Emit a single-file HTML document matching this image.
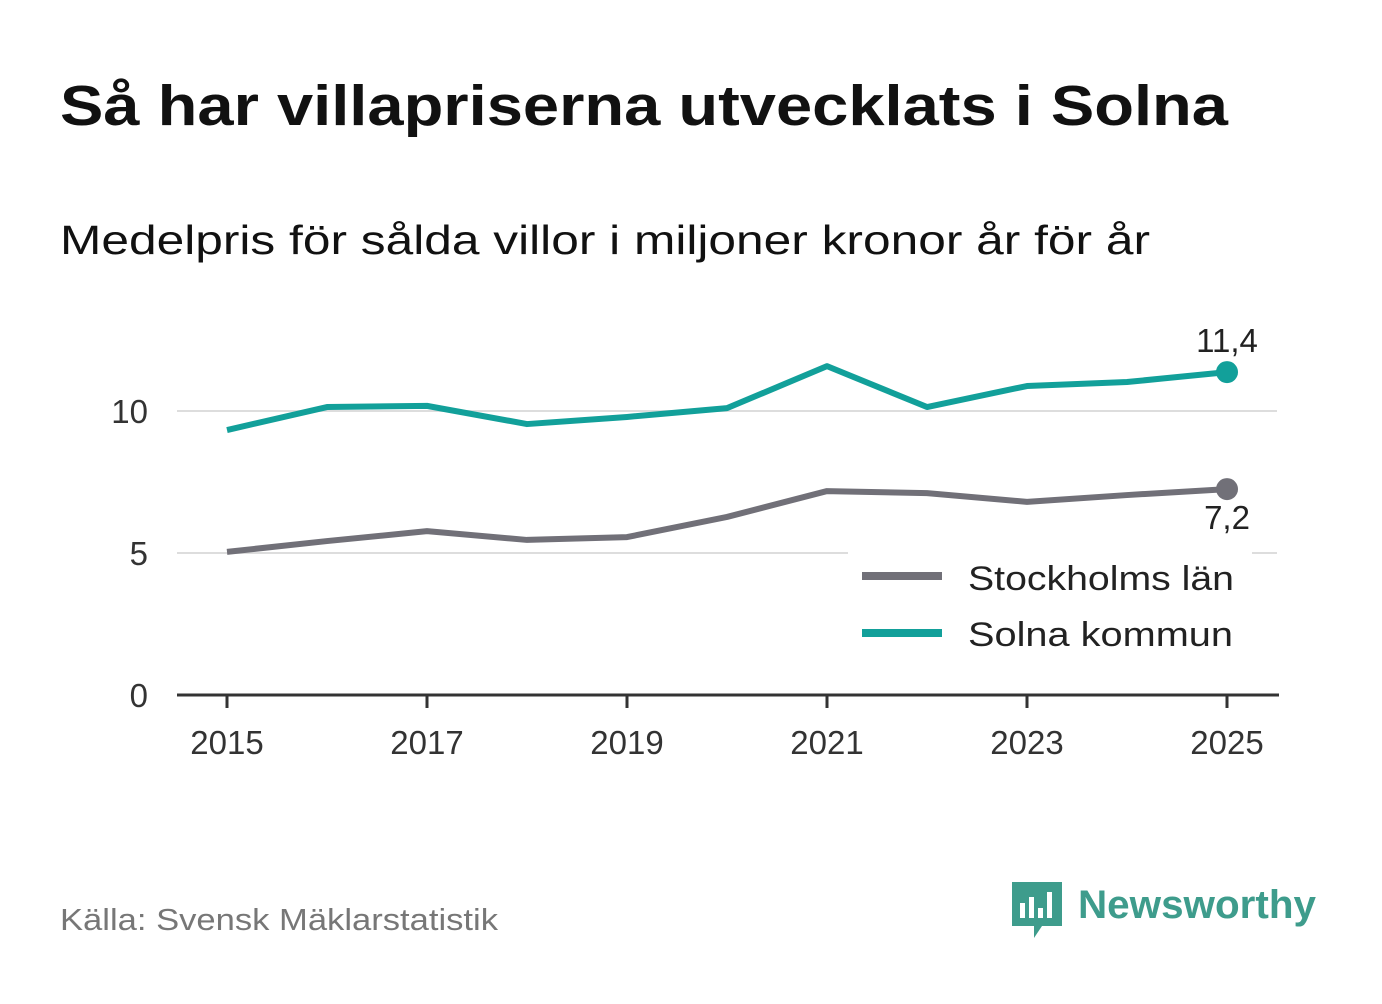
<!DOCTYPE html>
<html><head><meta charset="utf-8">
<style>
body{margin:0;background:#fff;width:1382px;height:999px;overflow:hidden;font-family:"Liberation Sans",sans-serif;}
svg text{font-family:"Liberation Sans",sans-serif;}
</style></head>
<body>
<svg width="1382" height="999">
<text x="60" y="125" font-size="57" font-weight="bold" fill="#111" textLength="1168" lengthAdjust="spacingAndGlyphs">Så har villapriserna utvecklats i Solna</text>
<text x="60" y="254" font-size="41" fill="#111" textLength="1090" lengthAdjust="spacingAndGlyphs">Medelpris för sålda villor i miljoner kronor år för år</text>
<g id="grid"></g>
<g id="lines"></g>
<rect x="848" y="548" width="404" height="112" fill="#fff"/>
<line x1="862" y1="576" x2="942" y2="576" stroke="#717078" stroke-width="8"/>
<text x="968" y="590" font-size="34" fill="#222" textLength="266" lengthAdjust="spacingAndGlyphs">Stockholms län</text>
<line x1="862" y1="633" x2="942" y2="633" stroke="#12a09a" stroke-width="8"/>
<text x="968" y="646" font-size="34" fill="#222" textLength="265" lengthAdjust="spacingAndGlyphs">Solna kommun</text>
<g id="axes"></g>
<text x="60" y="930" font-size="31" fill="#777" textLength="438" lengthAdjust="spacingAndGlyphs">Källa: Svensk Mäklarstatistik</text>
<g>
<path d="M1012 882 h50 v44 h-20 l-8 12 v-12 h-22 z" fill="#3e9c8c"/>
<rect x="1020" y="903" width="5" height="15" fill="#fff"/><rect x="1029" y="897" width="5" height="21" fill="#fff"/><rect x="1038" y="908" width="5" height="10" fill="#fff"/><rect x="1047" y="892" width="5" height="26" fill="#fff"/>
<text x="1078" y="918" font-size="40" font-weight="bold" fill="#3e9c8c" textLength="238" lengthAdjust="spacingAndGlyphs">Newsworthy</text>
</g>
</svg>
<script>
const years=[2015,2016,2017,2018,2019,2020,2021,2022,2023,2024,2025];
const stockholm=[5.04,5.42,5.77,5.46,5.56,6.27,7.18,7.11,6.8,7.04,7.25];
const solna=[9.33,10.14,10.18,9.54,9.79,10.1,11.58,10.14,10.88,11.02,11.37];
const yTicks=[0,5,10];
const xTicks=[2015,2017,2019,2021,2023,2025];
const lastLabels=["7,2","11,4"];
const NS="http://www.w3.org/2000/svg";
const xs=y=>227+(y-2015)*100;
const ys=v=>695-v*28.4;
function mk(t,a,p){const e=document.createElementNS(NS,t);for(const k in a)e.setAttribute(k,a[k]);p.appendChild(e);return e;}
const grid=document.getElementById('grid'),lines=document.getElementById('lines'),axes=document.getElementById('axes');
yTicks.forEach(v=>{
 if(v>0){const g=mk('line',{x1:177,x2:1277,y1:ys(v),y2:ys(v),stroke:'#ddd','stroke-width':2},grid);
 
 }
 const t=mk('text',{x:148,y:ys(v)+12,'font-size':33,fill:'#333','text-anchor':'end'},axes);t.textContent=v;
 
 
});
const ax=mk('line',{x1:177,x2:1279,y1:695,y2:695,stroke:'#333','stroke-width':3},axes);


xTicks.forEach(y=>{
 const tk=mk('line',{x1:xs(y),x2:xs(y),y1:695,y2:708,stroke:'#333','stroke-width':3},axes);
 
 
 const t=mk('text',{x:xs(y),y:754,'font-size':33,fill:'#333','text-anchor':'middle'},axes);t.textContent=y;
 
 
});
[[stockholm,'#717078','stockholm',lastLabels[0],40],[solna,'#12a09a','solna',lastLabels[1],-20]].forEach(([d,c,n,lab,off])=>{
 const p=mk('polyline',{points:d.map((v,i)=>xs(years[i])+','+ys(v)).join(' '),fill:'none',stroke:c,'stroke-width':6,'stroke-linejoin':'round'},lines);
 
 
 const li=d.length-1;
 const dot=mk('circle',{cx:xs(years[li]),cy:ys(d[li]),r:11,fill:c},lines);
 
 
 const t=mk('text',{x:xs(years[li]),y:ys(d[li])+off,'font-size':33,fill:'#222','text-anchor':'middle'},lines);
 t.textContent=lab;
 
 
});
</script>
</body></html>
